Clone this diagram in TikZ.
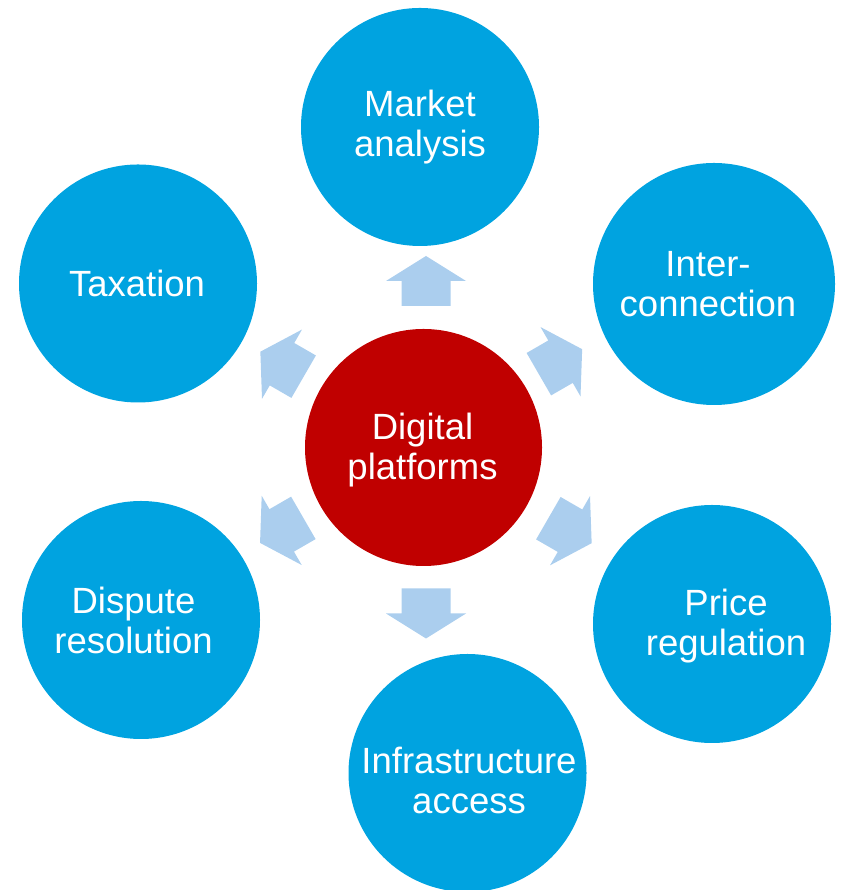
\documentclass[tikz,border=0pt]{standalone}
\usepackage{fontspec}
\setmainfont{Liberation Sans}
\definecolor{cblue}{RGB}{0,163,224}
\definecolor{cred}{RGB}{192,0,0}
\definecolor{carrow}{RGB}{171,206,238}
\newcommand\myblockarrow[3]{%
  \fill[arrowfill, shift={(#1,#2)}, rotate=#3]
    (-25,-24.5) -- (0,-24.5) -- (0,-40) -- (25,0) -- (0,40) -- (0,24.5) -- (-25,24.5) -- cycle;}
\begin{document}
\begin{tikzpicture}[x=1pt,y=1pt,
  bubble/.style={circle, fill=cblue, draw=none, minimum size=238pt, inner sep=0pt},
  hub/.style={bubble, fill=cred, minimum size=237pt},
  txt/.style={text=white, align=center, inner sep=0pt, font=\fontsize{36.5}{40}\selectfont},
  arrowfill/.style={fill=carrow}]
\useasboundingbox (0,0) rectangle (841,890);
\node[hub] (c) at (423.5,442.5) {};
\node[bubble] (market) at (420,763) {};
\node[bubble, minimum size=242pt] (inter) at (714,606) {};
\node[bubble] (price) at (712,266) {};
\node[bubble] (infra) at (467.5,117) {};
\node[bubble] (dispute) at (141,270) {};
\node[bubble] (tax) at (138,606.5) {};
\node[txt] (ct) at (422.5,439.5) {Digital\\platforms};
\node[txt] (markett) at (420,763) {Market\\analysis};
\node[txt] (intert) at (708,606) {Inter-\\connection};
\node[txt] (pricet) at (726,264) {Price\\regulation};
\node[txt] (infrat) at (469,110) {Infrastructure\\access};
\node[txt] (disputet) at (133.5,270) {Dispute\\resolution};
\node[txt] (taxt) at (137,606.5) {Taxation};
\myblockarrow{426}{609}{90}
\myblockarrow{426}{276.5}{-90}
\myblockarrow{560.5}{528.3}{30}
\myblockarrow{570}{359.3}{-30}
\myblockarrow{282}{525.8}{150}
\myblockarrow{281.7}{359.6}{210}
\end{tikzpicture}
\end{document}
